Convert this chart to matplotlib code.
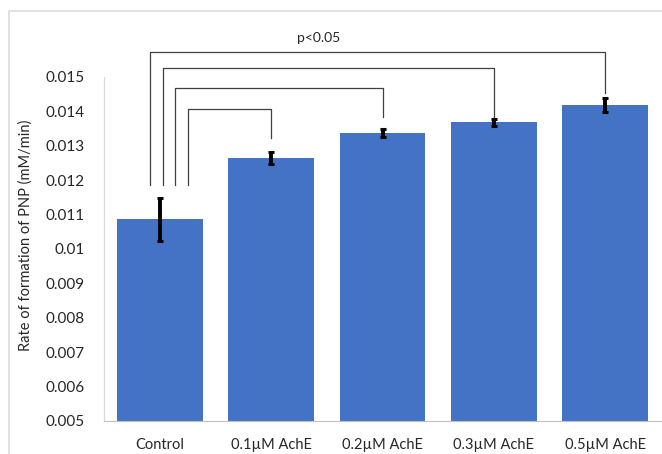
import numpy as np
import matplotlib
matplotlib.use("Agg")
import matplotlib.pyplot as plt
from matplotlib.patches import Rectangle

# --- DATA ---
categories = ["Control", "0.1\u00b5M AchE", "0.2\u00b5M AchE", "0.3\u00b5M AchE", "0.5\u00b5M AchE"]
rates = [0.01086, 0.01265, 0.01338, 0.01368, 0.01418]
errors = [0.00062, 0.00017, 0.00011, 0.00010, 0.00020]
yticks = [0.005, 0.006, 0.007, 0.008, 0.009, 0.01, 0.011, 0.012, 0.013, 0.014, 0.015]
ytick_labels = ["0.005", "0.006", "0.007", "0.008", "0.009", "0.01", "0.011", "0.012", "0.013", "0.014", "0.015"]

# significance brackets: (target bar, left x offset from control, bracket height, drop end)
bracket_targets = [4, 3, 2, 1]
bracket_left_offsets = [-0.09, 0.03, 0.14, 0.25]
bracket_heights = [0.01572, 0.01525, 0.01469, 0.01407]
bracket_right_ends = [0.01454, 0.01385, 0.01385, 0.01323]
bracket_left_end = 0.01186
sig_label = "p<0.05"

# --- STYLE ---
plt.rcParams['font.family'] = ['Lato', 'DejaVu Sans']
bar_color = "#4472C4"
line_color = "#404040"
text_color = "#262626"

fig = plt.figure(figsize=(6.62, 4.54), dpi=100)
# light frame around the chart area
fig.patches.append(Rectangle((9 / 662, -0.1), 1.1, (454 - 11) / 454 + 0.1,
                             transform=fig.transFigure, fill=False,
                             edgecolor="#dcdcdc", linewidth=1.2))
ax = fig.add_axes([104 / 662, 33 / 454, 557 / 662, 344 / 454])

x = np.arange(len(categories))
ax.bar(x, rates, width=0.77, color=bar_color, zorder=2)
ax.errorbar(x, rates, yerr=errors, fmt="none", ecolor="black",
            elinewidth=2.8, capsize=2.2, capthick=2.2, zorder=3)

ax.set_xlim(-0.5, len(categories) - 0.5)
ax.set_ylim(0.005, 0.015)
ax.set_yticks(yticks)
ax.set_yticklabels(ytick_labels, fontsize=11, color=text_color)
ax.set_xticks(x)
ax.set_xticklabels(categories, fontsize=10.5, color=text_color)
ax.tick_params(axis="y", length=0, pad=14)
ax.tick_params(axis="x", length=0, pad=12)
ax.set_ylabel("Rate of formation of PNP (mM/min)", fontsize=10.5, color=text_color)
ax.yaxis.set_label_coords(-0.1275, 0.54)

for s in ["top", "right"]:
    ax.spines[s].set_visible(False)
ax.spines["left"].set_color("#d9d9d9")
ax.spines["bottom"].set_color("#bfbfbf")

# significance brackets from control to each treatment
for tgt, off, h, rend in zip(bracket_targets, bracket_left_offsets, bracket_heights, bracket_right_ends):
    xl = x[0] + off
    xr = x[tgt]
    ax.plot([xl, xl, xr, xr], [bracket_left_end, h, h, rend],
            color=line_color, linewidth=0.9, clip_on=False, zorder=4)

ax.text(1.43, 0.01613, sig_label, ha="center", va="center", fontsize=10,
        color=text_color, clip_on=False)

fig.savefig("out.png", dpi=100)
